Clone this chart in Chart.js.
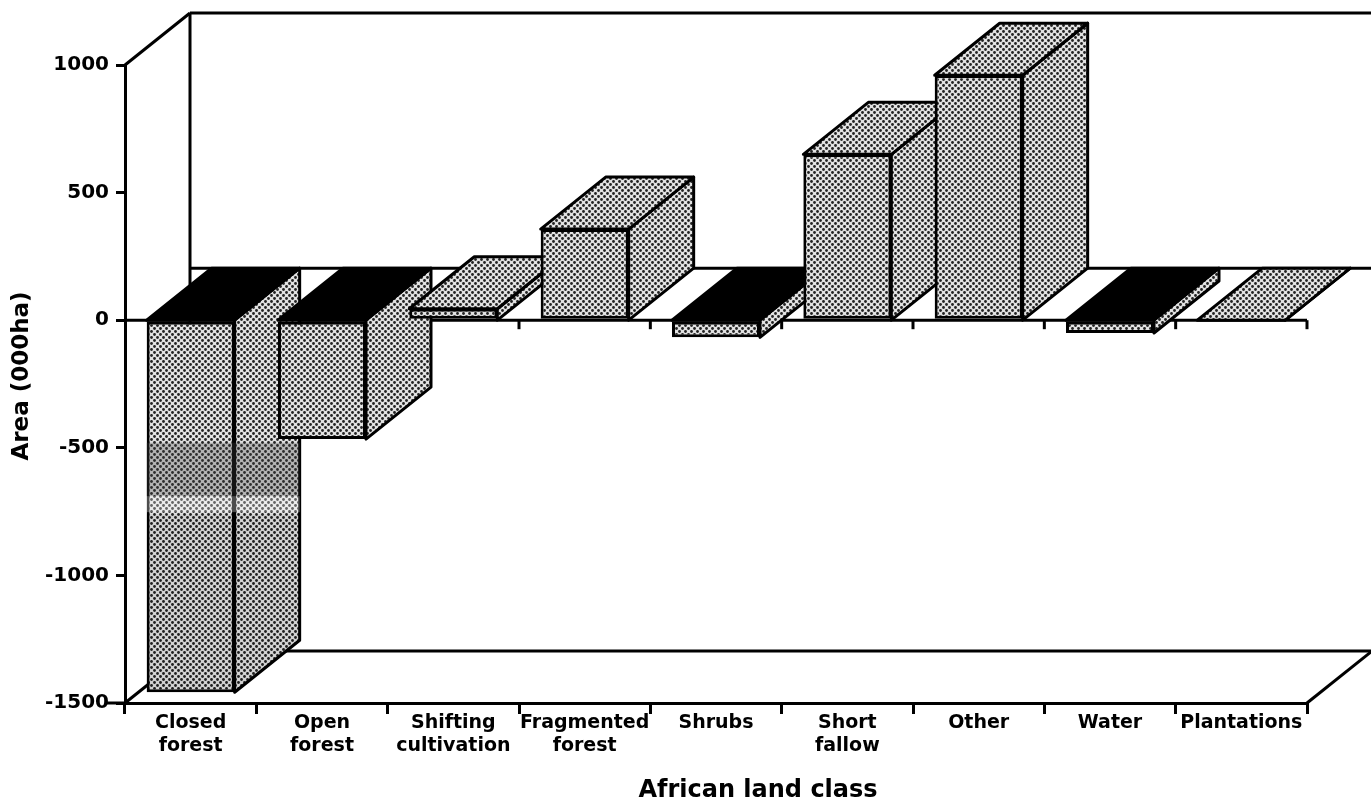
<!DOCTYPE html>
<html><head><meta charset="utf-8">
<style>html,body{margin:0;padding:0;background:#fff}canvas{display:block}</style>
<script src="https://cdn.jsdelivr.net/npm/chart.js@4"></script>
</head><body><canvas id="c" width="1371" height="807"></canvas>
<script>
const categories = [["Closed","forest"],["Open","forest"],["Shifting","cultivation"],["Fragmented","forest"],["Shrubs"],["Short","fallow"],["Other"],["Water"],["Plantations"]];
const areaValues = [-1458,-466,45,357,-67,650,960,-50,0];
const blackTops = [true,true,false,false,true,false,false,true,false];
const yTicks = [1000,500,0,-500,-1000,-1500];
const smudgeRange = [-480,-760];

const DX = 65, DY = 52;
function makePattern(bg, dot, r){
  const t = document.createElement('canvas'); t.width = 6; t.height = 6;
  const g = t.getContext('2d');
  g.fillStyle = bg; g.fillRect(0,0,6,6);
  g.fillStyle = dot;
  [[1.5,1.5],[4.5,4.5]].forEach(p=>{g.beginPath();g.arc(p[0],p[1],r,0,Math.PI*2);g.fill();});
  return g.createPattern(t,'repeat');
}
const ctx0 = document.getElementById('c').getContext('2d');
const dots = makePattern('#e2e2e2','#222',1.4);

function poly(ctx, pts, fill){
  ctx.beginPath();
  pts.forEach((p,i)=> i?ctx.lineTo(p[0],p[1]):ctx.moveTo(p[0],p[1]));
  ctx.closePath();
  ctx.fillStyle = fill; ctx.fill();
  ctx.lineWidth = 3; ctx.strokeStyle = '#000'; ctx.lineJoin='round'; ctx.stroke();
}
function line(ctx, x1,y1,x2,y2,w){
  ctx.beginPath(); ctx.moveTo(x1,y1); ctx.lineTo(x2,y2);
  ctx.lineWidth = w||3; ctx.strokeStyle='#000'; ctx.stroke();
}
const box3d = {
  id:'box3d',
  afterLayout(chart){
    const s = chart.scales.x, y = chart.scales.y;
    if(!s._shifted){
      const o = s.drawTitle;
      s.drawTitle = function(){ chart.ctx.save(); chart.ctx.translate(42,0); o.call(this); chart.ctx.restore(); };
      s._shifted = true;
    }
    if(!y._shifted){
      const o = y.drawTitle;
      y.drawTitle = function(){ chart.ctx.save(); chart.ctx.translate(0,-8); o.call(this); chart.ctx.restore(); };
      y._shifted = true;
    }
  },
  beforeDatasetsDraw(chart){
    const {ctx, scales:{x,y}, chartArea:a} = chart;
    const y0 = y.getPixelForValue(0);
    ctx.save();
    line(ctx,a.left,a.top,a.left+DX,a.top-DY);
    line(ctx,a.left+DX,a.top-DY,a.right+DX,a.top-DY);
    line(ctx,a.left+DX,a.top-DY,a.left+DX,a.bottom-DY);
    line(ctx,a.left,a.bottom,a.left+DX,a.bottom-DY);
    line(ctx,a.left+DX,a.bottom-DY,a.right+DX,a.bottom-DY);
    line(ctx,a.right,a.bottom,a.right+DX,a.bottom-DY);
    line(ctx,a.left-18,a.bottom,a.left,a.bottom);
    line(ctx,a.left+DX,y0-DY,a.right+DX,y0-DY);
    line(ctx,a.left,y0,a.right,y0);
    const step = x.getPixelForTick(1)-x.getPixelForTick(0);
    for(let i=0;i<categories.length;i++){
      const tx = x.getPixelForTick(i)+step/2;
      line(ctx,tx,y0,tx,y0+9);
    }
    chart.getDatasetMeta(0).data.forEach((bar,i)=>{
      const v = areaValues[i];
      const l = bar.x-bar.width/2, r = bar.x+bar.width/2;
      const hi = y.getPixelForValue(Math.max(v,0)), lo = y.getPixelForValue(Math.min(v,0));
      poly(ctx,[[r,hi],[r+DX,hi-DY],[r+DX,lo-DY],[r,lo]],dots);
      poly(ctx,[[l,hi],[l+DX,hi-DY],[r+DX,hi-DY],[r,hi]],blackTops[i]?'#000':dots);
    });
    ctx.restore();
  },
  afterDatasetsDraw(chart){
    const {ctx, scales:{y}} = chart;
    const bar = chart.getDatasetMeta(0).data[0];
    const l = bar.x-bar.width/2, fr = bar.x+bar.width/2, r = fr+DX;
    const t = y.getPixelForValue(smudgeRange[0]), b = y.getPixelForValue(smudgeRange[1]);
    const bot = y.getPixelForValue(areaValues[0]);
    ctx.save();
    ctx.fillStyle='rgba(70,70,70,.3)';
    ctx.fillRect(l,t,r-l,b-t-18);
    ctx.fillStyle='rgba(255,255,255,.3)';
    ctx.fillRect(l,b-18,r-l,16);
    ctx.fillStyle='rgba(0,0,0,.07)';
    ctx.beginPath();
    ctx.moveTo(l,b);ctx.lineTo(r,b);ctx.lineTo(r,bot-DY);ctx.lineTo(fr,bot);ctx.lineTo(l,bot);ctx.closePath();
    ctx.fill();
    ctx.restore();
  }
};
new Chart(ctx0,{
  type:'bar',
  data:{labels:categories,datasets:[{
    data:areaValues,
    backgroundColor:dots,
    borderColor:'#000',
    borderWidth:3,
    borderSkipped:false,
    barPercentage:1,
    categoryPercentage:0.67,
    clip:false
  }]},
  options:{
    responsive:false,animation:false,devicePixelRatio:1,
    layout:{padding:{top:65,right:64,left:8,bottom:2}},
    plugins:{legend:{display:false},tooltip:{enabled:false},title:{display:false}},
    scales:{
      x:{
        afterFit(s){s.height=102;},
        grid:{offset:true,drawOnChartArea:false,color:'#000',lineWidth:3,tickLength:11,tickColor:'#000'},
        border:{color:'#000',width:3},
        ticks:{color:'#000',font:{family:'"DejaVu Sans"',weight:'bold',size:19,lineHeight:1.2},maxRotation:0,autoSkip:false,padding:-2},
        title:{display:true,text:'African land class',color:'#000',font:{family:'"DejaVu Sans"',weight:'bold',size:24},padding:{top:0,bottom:0}}
      },
      y:{
        min:-1500,max:1000,
        afterFit(s){s.width=117;},
        afterBuildTicks(s){s.ticks=yTicks.map(v=>({value:v}));},
        grid:{drawOnChartArea:false,color:'#000',lineWidth:3,tickLength:9,tickColor:'#000'},
        border:{color:'#000',width:3},
        ticks:{color:'#000',font:{family:'"DejaVu Sans"',weight:'bold',size:20},padding:7,callback:v=>String(v)},
        title:{display:true,text:'Area (000ha)',color:'#000',font:{family:'"DejaVu Sans"',weight:'bold',size:23},padding:{top:0,bottom:0}}
      }
    }
  },
  plugins:[box3d]
});
</script></body></html>
